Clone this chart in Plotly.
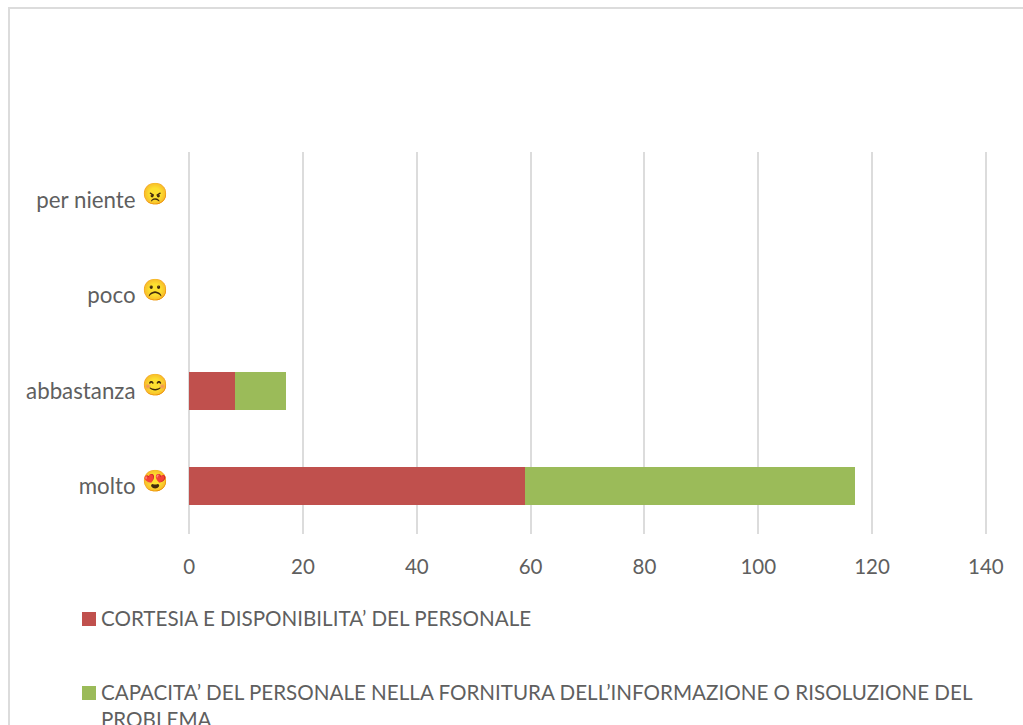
import plotly.graph_objects as go

categories = ["molto", "abbastanza", "poco", "per niente"]
emoji = ["😍", "😊", "☹️", "😠"]
series_a_name = "CORTESIA E DISPONIBILITA’ DEL PERSONALE"
series_b_name = "CAPACITA’ DEL PERSONALE NELLA FORNITURA DELL’INFORMAZIONE O RISOLUZIONE DEL<br>PROBLEMA"
series_a = [59, 8, 0, 0]
series_b = [58, 9, 0, 0]
x_ticks = [0, 20, 40, 60, 80, 100, 120, 140]
RED = "#C0504D"
GREEN = "#9BBB59"
TXT = "#5F5F5F"
GRID = "#DCDCDC"
FONT = "Lato"
W, H = 1023, 725
L, R, T, B = 188, 36, 152, 191
PW, PH = W - L - R, H - T - B

def px(x):
    return (x - L) / PW

def py(y):
    return (H - B - y) / PH

fig = go.Figure()
fig.add_trace(go.Bar(y=categories, x=series_a, orientation="h", marker=dict(color=RED, line_width=0), name=series_a_name))
fig.add_trace(go.Bar(y=categories, x=series_b, orientation="h", marker=dict(color=GREEN, line_width=0), name=series_b_name))

fig.add_shape(type="rect", xref="paper", yref="paper", x0=px(9), x1=px(1040), y0=py(800), y1=py(8),
              line=dict(color=GRID, width=2), layer="below")

for c, e in zip(categories, emoji):
    fig.add_annotation(xref="paper", yref="y", x=px(154.5), y=c, yshift=7, text=e, showarrow=False,
                       xanchor="center", font=dict(size=21))

for name, col, yc in [(series_a_name, RED, 619), (series_b_name, GREEN, 693)]:
    fig.add_shape(type="rect", xref="paper", yref="paper", x0=px(82), x1=px(96),
                  y0=py(yc + 7), y1=py(yc - 7), fillcolor=col, line_width=0)
    fig.add_annotation(xref="paper", yref="paper", x=px(101), y=py(yc - 14), text=name, showarrow=False,
                       xanchor="left", yanchor="top", align="left", borderpad=0, xshift=-1,
                       font=dict(family=FONT, size=20.6, color=TXT))

fig.update_layout(
    width=W, height=H, barmode="stack", bargap=0.6, showlegend=False,
    margin=dict(l=L, r=R, t=T, b=B), paper_bgcolor="white", plot_bgcolor="white",
    font=dict(family=FONT, size=20.5, color=TXT),
    xaxis=dict(range=[-0.2, 140.2], tickvals=x_ticks, showgrid=True, gridcolor=GRID, gridwidth=2,
               zeroline=False, showline=False, ticks="outside", ticklen=14, tickcolor="rgba(0,0,0,0)"),
    yaxis=dict(type="category", categoryorder="array", categoryarray=categories, showgrid=False,
               zeroline=False, showline=False, ticks="outside", ticklen=47, tickcolor="rgba(0,0,0,0)",
               tickfont=dict(family=FONT, size=22.3, color=TXT)),
)
fig.write_html("out.html", config={"displayModeBar": False},
               post_script="document.body.style.margin='0';document.body.style.overflow='hidden';")
